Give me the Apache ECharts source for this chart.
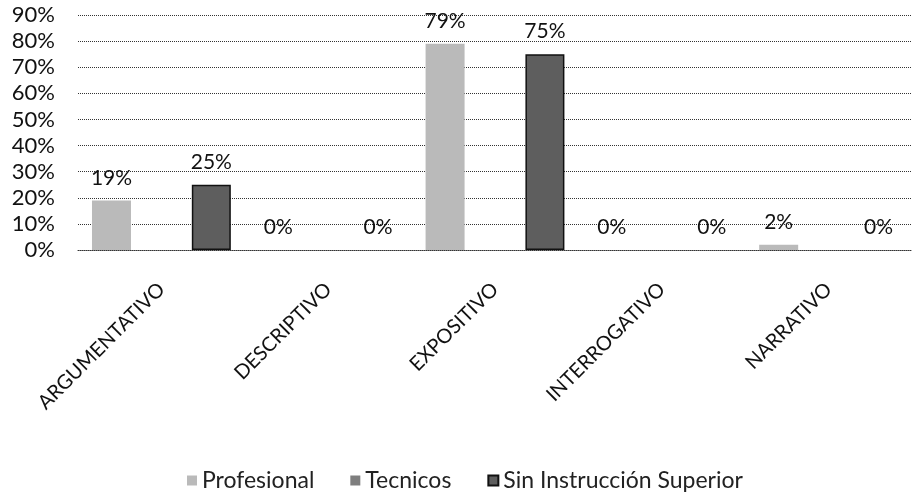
<!DOCTYPE html>
<html>
<head>
<meta charset="utf-8">
<script src="https://cdn.jsdelivr.net/npm/echarts@6/dist/echarts.min.js"></script>
<style>
html,body{margin:0;padding:0;background:#fff;}
#chart{width:912px;height:498px;}
</style>
</head>
<body>
<div id="chart"></div>
<script>
const categories = ['ARGUMENTATIVO', 'DESCRIPTIVO', 'EXPOSITIVO', 'INTERROGATIVO', 'NARRATIVO'];
const seriesNames = ['Profesional', 'Tecnicos', 'Sin Instrucción Superior'];
const profesional = [19, 0, 79, 0, 2];
const tecnicos = [null, null, null, null, null];
const sinInstruccion = [25, 0, 75, 0, 0];
const yTicks = { min: 0, max: 90, interval: 10 };

const FONT = 'Lato, "Open Sans", sans-serif';
const chart = echarts.init(document.getElementById('chart'), null, { renderer: 'canvas' });

const labelCfg = {
  show: true,
  position: 'top',
  distance: 12,
  formatter: p => p.value + '%',
  color: '#111',
  fontSize: 21,
  fontFamily: FONT
};

function withBorder(values, border) {
  return values.map(v => ({
    value: v,
    itemStyle: v ? border : { borderWidth: 0 }
  }));
}

chart.setOption({
  animation: false,
  textStyle: { fontFamily: FONT },
  grid: { left: 78, right: -6, top: 15, bottom: 248, containLabel: false },
  legend: {
    top: 464,
    left: 182,
    itemWidth: 10,
    itemHeight: 10,
    itemGap: 36,
    icon: 'rect',
    textStyle: { fontSize: 23, color: '#222', fontFamily: FONT },
    data: seriesNames
  },
  xAxis: {
    type: 'category',
    data: categories,
    axisLine: { show: true, lineStyle: { color: '#333', type: 'dotted', width: 1 } },
    axisTick: { show: false },
    axisLabel: {
      rotate: 45,
      interval: 0,
      margin: 36,
      fontSize: 20,
      color: '#111',
      fontFamily: FONT
    }
  },
  yAxis: {
    type: 'value',
    min: yTicks.min,
    max: yTicks.max,
    interval: yTicks.interval,
    axisLine: { show: false },
    axisTick: { show: false },
    splitLine: { show: true, lineStyle: { color: '#333', type: 'dotted', width: 1 } },
    axisLabel: {
      formatter: '{value}%',
      margin: 23,
      fontSize: 22,
      color: '#111',
      fontFamily: FONT,
      padding: [9, 0, 0, 0]
    }
  },
  series: [
    {
      name: seriesNames[0],
      type: 'bar',
      data: profesional,
      barWidth: 39,
      barGap: '28%',
      itemStyle: { color: '#bababa' },
      label: labelCfg
    },
    {
      name: seriesNames[1],
      type: 'bar',
      data: tecnicos,
      barWidth: 39,
      barGap: '28%',
      itemStyle: { color: '#7e7e7e' },
      label: labelCfg
    },
    {
      name: seriesNames[2],
      type: 'bar',
      data: withBorder(sinInstruccion, { borderColor: '#111', borderWidth: 1.5 }),
      barWidth: 39,
      barGap: '28%',
      itemStyle: { color: '#5e5e5e', borderColor: '#111', borderWidth: 1.5 },
      label: labelCfg
    }
  ]
});
</script>
</body>
</html>
